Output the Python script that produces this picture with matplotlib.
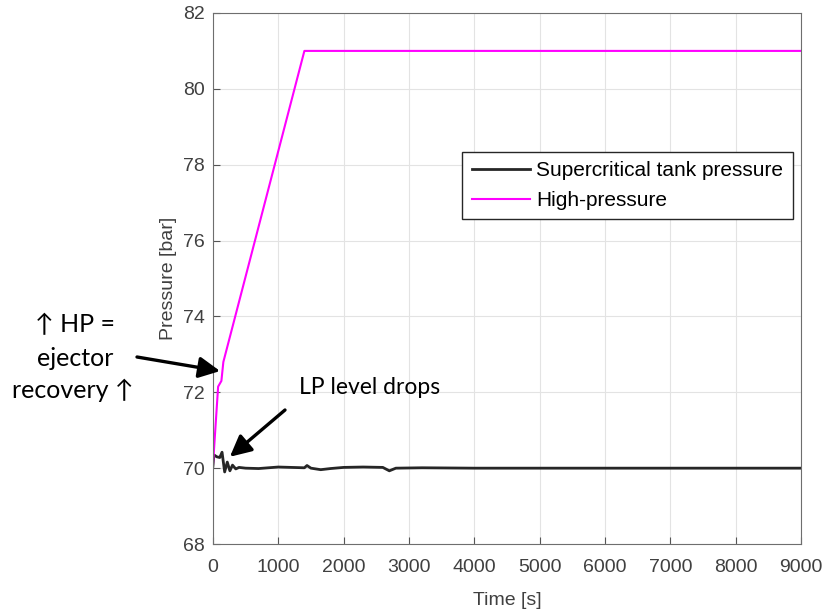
import matplotlib.pyplot as plt

# time axis [s] and pressures [bar]
t_hp = [0, 80, 130, 160, 1400, 9000]
p_hp = [70.05, 72.15, 72.3, 72.8, 81.0, 81.0]

t_sc = [0, 15, 60, 105, 140, 180, 220, 260, 300, 350, 400, 500, 700, 1000, 1200, 1400,
        1440, 1500, 1650, 1800, 2000, 2300, 2600, 2700, 2800, 3200, 4000, 5000, 6000, 7000, 8000, 9000]
p_sc = [70.05, 70.35, 70.3, 70.28, 70.42, 69.9, 70.16, 69.93, 70.08, 69.98, 70.02, 70.0, 69.99, 70.03, 70.02, 70.01,
        70.07, 70.0, 69.96, 69.99, 70.02, 70.03, 70.02, 69.93, 70.0, 70.01, 70.0, 70.0, 70.0, 70.0, 70.0, 70.0]

plt.rcParams['font.family'] = ['Liberation Sans', 'DejaVu Sans']

fig = plt.figure(figsize=(8.22, 6.15), dpi=100)
ax = fig.add_axes([0.259, 0.1154, 0.7155, 0.8635])

ax.plot(t_sc, p_sc, color='#262626', lw=2, label='Supercritical tank pressure')
ax.plot(t_hp, p_hp, color='#ff00ff', lw=1.5, label='High-pressure')

ax.set_xlim(0, 9000)
ax.set_ylim(68, 82)
ax.set_xticks(range(0, 9001, 1000))
ax.set_yticks(range(68, 83, 2))
ax.grid(True, color='#e3e3e3', lw=0.8)
ax.tick_params(direction='in', labelsize=14, colors='#555555', labelcolor='#404040', length=5)
ax.tick_params(axis='x', pad=11)
ax.tick_params(axis='y', pad=6)
for s in ax.spines.values():
    s.set_color('#6e6e6e')
ax.set_xlabel('Time [s]', fontsize=14, color='#404040', labelpad=11)
ax.set_ylabel('Pressure [bar]', fontsize=14, color='#404040', labelpad=4)

leg = ax.legend(loc='upper right', bbox_to_anchor=(0.986, 0.738), borderaxespad=0, fontsize=15,
                fancybox=False, framealpha=1, edgecolor='#262626',
                handlelength=2.8, borderpad=0.45, labelspacing=0.5, handletextpad=0.3)
leg.get_frame().set_linewidth(1.0)

# annotations
txt = dict(fontsize=18, ha='center', va='center', family=['Lato', 'DejaVu Sans'])
fig.text(75 / 822, 1 - 325 / 615, '↑ HP =', **txt)
fig.text(75 / 822, 1 - 358 / 615, 'ejector', **txt)
fig.text(73 / 822, 1 - 390 / 615, 'recovery ↑', **txt)
fig.text(370 / 822, 1 - 388 / 615, 'LP level drops', fontsize=16.5, ha='center', va='center',
         family=['Lato', 'DejaVu Sans'])

arrow = dict(arrowstyle='-|>', lw=2.4, color='black', mutation_scale=32, shrinkA=0, shrinkB=0)
ax.annotate('', xy=(110, 72.56), xytext=(137 / 822, 1 - 357 / 615),
            textcoords='figure fraction', arrowprops=arrow)
ax.annotate('', xy=(260, 70.3), xytext=(285 / 822, 1 - 410 / 615),
            textcoords='figure fraction', arrowprops=arrow)

fig.savefig('out.png', dpi=100)
